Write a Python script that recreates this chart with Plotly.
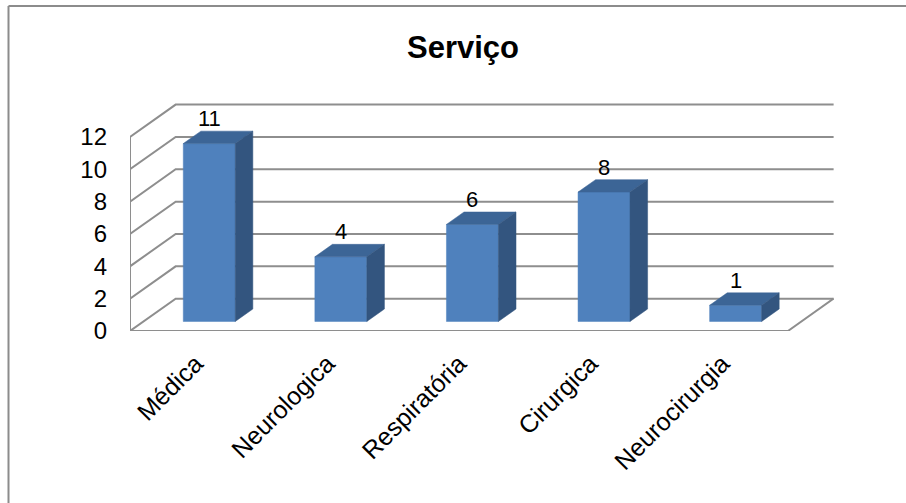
import plotly.graph_objects as go

# ---- data ----
categories = ["Médica", "Neurologica", "Respiratória", "Cirurgica", "Neurocirurgia"]
values = [11, 4, 6, 8, 1]
y_ticks = [0, 2, 4, 6, 8, 10, 12]
title_text = "Serviço"

# ---- 3D-look geometry (oblique projection in data units) ----
DX = 0.347   # full depth, x shift in category units
DY = 2.0     # full depth, y shift in value units
F0, F1 = 0.295, 0.68   # bar front/back depth fraction
HW = 0.1975            # half bar width (category units)

GRID = "#8e8e8e"
FRONT = "#4F81BD"
TOP = "#3C6596"
SIDE = "#33557F"

n = len(categories)
x0, x1 = -0.5, n - 0.5
ymax = max(y_ticks)

fig = go.Figure()

# walls / floor / gridlines
gx, gy = [], []
for v in y_ticks:
    gx += [x0, x0 + DX, x1 + DX, None]
    gy += [v, v + DY, v + DY, None]
gx += [x0, x0, None, x0, x1, x1 + DX, None]
gy += [0, ymax, None, 0, 0, DY, None]
fig.add_trace(go.Scatter(x=gx, y=gy, mode="lines", line=dict(color=GRID, width=2),
                         hoverinfo="skip", showlegend=False, cliponaxis=False))

def poly(xs, ys, color):
    fig.add_trace(go.Scatter(x=xs + [xs[0]], y=ys + [ys[0]], mode="lines", fill="toself",
                             fillcolor=color, line=dict(color=color, width=0.5),
                             hoverinfo="skip", showlegend=False, cliponaxis=False))

for i, v in enumerate(values):
    la = i - HW
    ra = i + HW
    fxl, fxr = la + F0 * DX, ra + F0 * DX
    fyb, fyt = F0 * DY, v + F0 * DY
    bxl, bxr = la + F1 * DX, ra + F1 * DX
    byb, byt = F1 * DY, v + F1 * DY
    poly([fxl, fxr, fxr, fxl], [fyb, fyb, fyt, fyt], FRONT)
    poly([fxl, fxr, bxr, bxl], [fyt, fyt, byt, byt], TOP)
    poly([fxr, bxr, bxr, fxr], [fyb, byb, byt, fyt], SIDE)

annotations = []
for i, v in enumerate(values):
    annotations.append(dict(x=i + F0 * DX, y=v + F0 * DY, text=str(v), showarrow=False,
                            yshift=25, xanchor="center", yanchor="middle",
                            font=dict(family="Liberation Sans, Arial", size=22, color="#000")))

L, R, T, B = 130, 72, 100, 172
W, H = 906, 503
pw = W - L - R
ph = H - T - B
ytop = ph / 16.17

def px_to_paper_x(px):
    return (px - L) / pw

def px_to_paper_y(py):
    return (H - B - py) / ph

shapes = [
    dict(type="line", xref="paper", yref="paper",
         x0=px_to_paper_x(8.5), x1=px_to_paper_x(8.5), y0=px_to_paper_y(6), y1=px_to_paper_y(520),
         line=dict(color="#8c8c8c", width=2)),
    dict(type="line", xref="paper", yref="paper",
         x0=px_to_paper_x(8.5), x1=px_to_paper_x(920), y0=px_to_paper_y(6), y1=px_to_paper_y(6),
         line=dict(color="#8c8c8c", width=2)),
]

fig.update_layout(
    width=W, height=H, autosize=False,
    margin=dict(l=L, r=R, t=T, b=B, pad=0),
    paper_bgcolor="white", plot_bgcolor="white",
    title=dict(text="<b>%s</b>" % title_text, x=463 / W, xref="container", xanchor="center",
               y=1 - 47 / H, yref="container", yanchor="middle",
               font=dict(family="Liberation Sans, Arial", size=31, color="#000")),
    xaxis=dict(range=[x0, x1 + 0.35], tickmode="array", tickvals=list(range(n)), ticktext=categories,
               tickangle=-45, showgrid=False, zeroline=False, showline=False,
               ticks="", ticklabelstandoff=12,
               tickfont=dict(family="Liberation Sans, Arial", size=25, color="#000")),
    yaxis=dict(range=[0, ytop], tickmode="array", tickvals=y_ticks,
               showgrid=False, zeroline=False, showline=False, ticks="",
               ticklabelstandoff=22,
               tickfont=dict(family="Liberation Sans, Arial", size=24, color="#000")),
    annotations=annotations,
    shapes=shapes,
    showlegend=False,
)

fig.write_html("out.html")
